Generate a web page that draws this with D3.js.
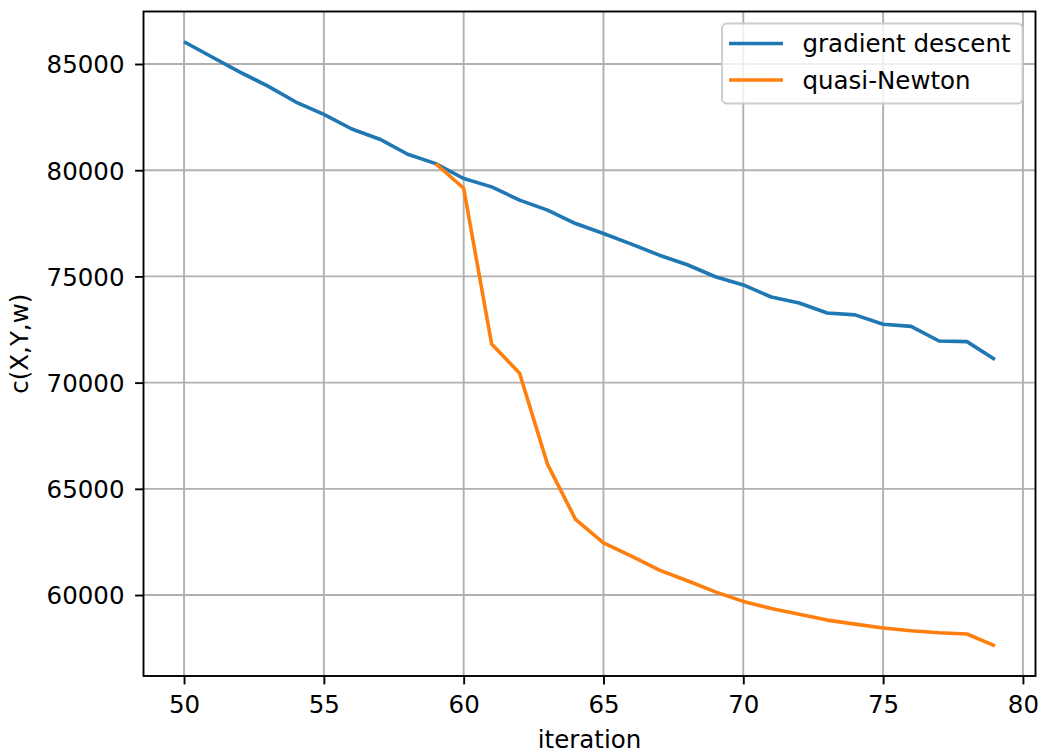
<!DOCTYPE html>
<html>
<head>
<meta charset="utf-8">
<script src="https://cdn.jsdelivr.net/npm/d3@7"></script>
<style>
  html, body { margin: 0; padding: 0; background: #ffffff; }
  svg { display: block; font-family: "DejaVu Sans", sans-serif; }
</style>
</head>
<body>
<svg id="chart" width="1044" height="753"></svg>
<script>
// Iterations shown on the x axis
const iterations = d3.range(50, 80);

// Cost c(X,Y,w) per iteration for plain gradient descent
const gradientDescent = [
  86050, 85330, 84620, 83960, 83210, 82630, 81940, 81460, 80750, 80310,
  79610, 79215, 78590, 78120, 77490, 77020, 76520, 76000, 75550, 74985,
  74600, 74030, 73750, 73280, 73190, 72745, 72650, 71960, 71930, 71085
];

// quasi-Newton run, switched on from iteration 59
const qnIterations = d3.range(59, 80);
const quasiNewton = [
  80310, 79150, 71820, 70440, 66150, 63560, 62450, 61830, 61170, 60670,
  60150, 59700, 59370, 59090, 58820, 58630, 58445, 58320, 58225, 58165,
  57610
];

const xTicks = [50, 55, 60, 65, 70, 75, 80];
const yTicks = [60000, 65000, 70000, 75000, 80000, 85000];

const seriesNames = ["gradient descent", "quasi-Newton"];
const seriesColors = ["#1f77b4", "#ff7f0e"];

const svg = d3.select("#chart");
const plotLeft = 143.5, plotRight = 1035.5, plotTop = 11.5, plotBottom = 676;
const fontSize = "24.5px";

// Axis limits padded 5% beyond the data, matplotlib style
const xMin = d3.min(iterations), xMax = d3.max(iterations);
const xPad = (xMax - xMin) * 0.05;
const allY = gradientDescent.concat(quasiNewton);
const yMin = d3.min(allY), yMax = d3.max(allY);
const yPad = (yMax - yMin) * 0.05;

const x = d3.scaleLinear().domain([xMin - xPad, xMax + xPad]).range([plotLeft, plotRight]);
const y = d3.scaleLinear().domain([yMin - yPad, yMax + yPad]).range([plotBottom, plotTop]);

const gridColor = "#b0b0b0";

// Grid
const grid = svg.append("g");
grid.selectAll("line.vx").data(xTicks).join("line")
  .attr("x1", d => x(d)).attr("x2", d => x(d))
  .attr("y1", plotTop).attr("y2", plotBottom)
  .attr("stroke", gridColor).attr("stroke-width", 1.9);
grid.selectAll("line.hy").data(yTicks).join("line")
  .attr("x1", plotLeft).attr("x2", plotRight)
  .attr("y1", d => y(d)).attr("y2", d => y(d))
  .attr("stroke", gridColor).attr("stroke-width", 1.9);

// Series lines
const line = d3.line().x(d => x(d[0])).y(d => y(d[1]));
const seriesData = [
  iterations.map((it, i) => [it, gradientDescent[i]]),
  qnIterations.map((it, i) => [it, quasiNewton[i]])
];
svg.append("g").selectAll("path").data(seriesData).join("path")
  .attr("d", line)
  .attr("fill", "none")
  .attr("stroke", (d, i) => seriesColors[i])
  .attr("stroke-width", 3.6)
  .attr("stroke-linejoin", "round")
  .attr("stroke-linecap", "butt");

// Frame
svg.append("rect")
  .attr("x", plotLeft).attr("y", plotTop)
  .attr("width", plotRight - plotLeft).attr("height", plotBottom - plotTop)
  .attr("fill", "none").attr("stroke", "#000").attr("stroke-width", 1.9);

// Axes
const xAxis = d3.axisBottom(x).tickValues(xTicks).tickSize(8.4).tickPadding(8)
  .tickFormat(d3.format("d"));
const gx = svg.append("g").attr("transform", `translate(0,${plotBottom})`).call(xAxis);
const yAxis = d3.axisLeft(y).tickValues(yTicks).tickSize(8.4).tickPadding(8)
  .tickFormat(d3.format("d"));
const gy = svg.append("g").attr("transform", `translate(${plotLeft},0)`).call(yAxis);

[gx, gy].forEach(g => {
  g.select(".domain").remove();
  g.selectAll(".tick line").attr("stroke", "#000").attr("stroke-width", 1.9);
  g.selectAll(".tick text")
    .attr("fill", "#000")
    .style("font-family", "'DejaVu Sans', sans-serif")
    .style("font-size", fontSize);
});
gx.selectAll(".tick text").attr("dy", null).attr("y", 37);
gy.selectAll(".tick text").attr("dy", "0.36em").attr("x", -19);

// Axis titles
svg.append("text")
  .attr("x", (plotLeft + plotRight) / 2).attr("y", 748)
  .attr("text-anchor", "middle")
  .style("font-size", fontSize)
  .text("iteration");

svg.append("text")
  .attr("transform", `translate(28,${(plotTop + plotBottom) / 2}) rotate(-90)`)
  .attr("text-anchor", "middle")
  .style("font-size", fontSize)
  .text("c(X,Y,w)");

// Legend
const legend = svg.append("g");
legend.append("rect")
  .attr("x", 722).attr("y", 23.5)
  .attr("width", 300.5).attr("height", 80)
  .attr("rx", 5).attr("ry", 5)
  .attr("fill", "#ffffff").attr("fill-opacity", 0.8)
  .attr("stroke", "#cccccc").attr("stroke-width", 1.9);

const rows = legend.selectAll("g.row").data(seriesNames).join("g")
  .attr("transform", (d, i) => `translate(0,${43.5 + i * 36.5})`);
rows.append("line")
  .attr("x1", 729).attr("x2", 783)
  .attr("y1", 0).attr("y2", 0)
  .attr("stroke", (d, i) => seriesColors[i])
  .attr("stroke-width", 3.6);
rows.append("text")
  .attr("x", 802.5).attr("y", 0).attr("dy", "0.36em")
  .style("font-size", fontSize)
  .text(d => d);
</script>
</body>
</html>
